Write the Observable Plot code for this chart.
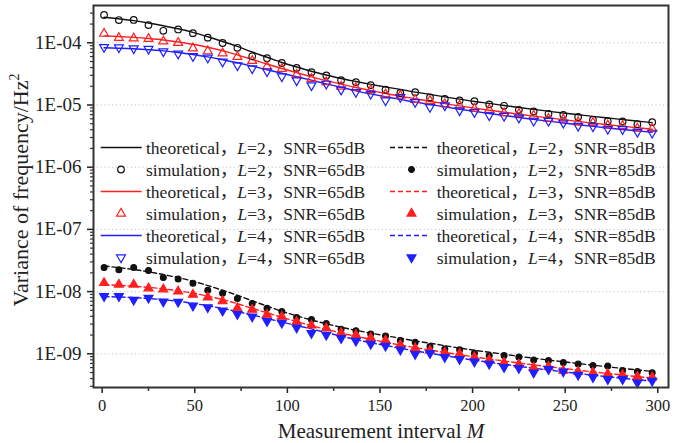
<!DOCTYPE html>
<html><head><meta charset="utf-8">
<script src="https://cdn.jsdelivr.net/npm/d3@7"></script>
<script src="https://cdn.jsdelivr.net/npm/@observablehq/plot@0.6"></script>
<style>
html,body{margin:0;padding:0;background:#fff;}
#chart{width:694px;height:443px;}
</style>
</head><body><div id="chart"></div>
<script>
// ---------- data ----------
const M = [1,9,17,25,33,41,49,57,65,73,81,89,97,105,113,121,129,137,145,153,161,169,177,185,193,201,209,217,225,233,241,249,257,265,273,281,289,297];

const theoL2_65 = [2.58e-4,2.43e-4,2.27e-4,2.08e-4,1.88e-4,1.68e-4,1.47e-4,1.25e-4,1.05e-4,8.73e-5,7.11e-5,5.85e-5,4.82e-5,4.08e-5,3.49e-5,3.04e-5,2.67e-5,2.39e-5,2.15e-5,1.95e-5,1.78e-5,1.61e-5,1.48e-5,1.35e-5,1.24e-5,1.14e-5,1.06e-5,9.82e-6,9.12e-6,8.49e-6,7.94e-6,7.43e-6,6.98e-6,6.56e-6,6.18e-6,5.82e-6,5.51e-6,5.21e-6];
const theoL3_65 = [1.29e-4,1.26e-4,1.22e-4,1.17e-4,1.11e-4,1.03e-4,9.46e-5,8.47e-5,7.44e-5,6.39e-5,5.39e-5,4.56e-5,3.86e-5,3.31e-5,2.83e-5,2.46e-5,2.16e-5,1.91e-5,1.71e-5,1.53e-5,1.38e-5,1.26e-5,1.15e-5,1.05e-5,9.68e-6,8.91e-6,8.24e-6,7.66e-6,7.11e-6,6.63e-6,6.20e-6,5.81e-6,5.45e-6,5.12e-6,4.82e-6,4.55e-6,4.30e-6,4.07e-6];
const theoL4_65 = [8.31e-5,8.19e-5,8.01e-5,7.75e-5,7.41e-5,6.98e-5,6.48e-5,5.93e-5,5.35e-5,4.77e-5,4.21e-5,3.69e-5,3.24e-5,2.85e-5,2.51e-5,2.19e-5,1.93e-5,1.69e-5,1.51e-5,1.36e-5,1.23e-5,1.11e-5,1.02e-5,9.32e-6,8.56e-6,7.89e-6,7.30e-6,6.78e-6,6.29e-6,5.87e-6,5.49e-6,5.14e-6,4.82e-6,4.53e-6,4.27e-6,4.04e-6,3.84e-6,3.64e-6];

const theoL2_85 = [2.58e-8,2.43e-8,2.27e-8,2.08e-8,1.88e-8,1.68e-8,1.47e-8,1.25e-8,1.05e-8,8.73e-9,7.11e-9,5.85e-9,4.82e-9,4.08e-9,3.49e-9,3.04e-9,2.67e-9,2.39e-9,2.15e-9,1.95e-9,1.78e-9,1.61e-9,1.48e-9,1.35e-9,1.24e-9,1.14e-9,1.06e-9,9.82e-10,9.12e-10,8.49e-10,7.94e-10,7.43e-10,6.98e-10,6.56e-10,6.18e-10,5.82e-10,5.51e-10,5.21e-10];
const theoL3_85 = [1.29e-8,1.26e-8,1.22e-8,1.17e-8,1.11e-8,1.03e-8,9.46e-9,8.47e-9,7.44e-9,6.39e-9,5.39e-9,4.56e-9,3.86e-9,3.31e-9,2.83e-9,2.46e-9,2.16e-9,1.91e-9,1.71e-9,1.53e-9,1.38e-9,1.26e-9,1.15e-9,1.05e-9,9.68e-10,8.91e-10,8.24e-10,7.66e-10,7.11e-10,6.63e-10,6.20e-10,5.81e-10,5.45e-10,5.12e-10,4.82e-10,4.55e-10,4.30e-10,4.07e-10];
const theoL4_85 = [8.31e-9,8.19e-9,8.01e-9,7.75e-9,7.41e-9,6.98e-9,6.48e-9,5.93e-9,5.35e-9,4.77e-9,4.21e-9,3.69e-9,3.24e-9,2.85e-9,2.51e-9,2.19e-9,1.93e-9,1.69e-9,1.51e-9,1.36e-9,1.23e-9,1.11e-9,1.02e-9,9.32e-10,8.56e-10,7.89e-10,7.30e-10,6.78e-10,6.29e-10,5.87e-10,5.49e-10,5.14e-10,4.82e-10,4.53e-10,4.27e-10,4.04e-10,3.84e-10,3.64e-10];

const simL2_65 = [2.80e-4,2.32e-4,2.33e-4,1.93e-4,1.56e-4,1.64e-4,1.43e-4,1.21e-4,9.93e-5,8.31e-5,6.07e-5,5.65e-5,4.73e-5,3.94e-5,3.37e-5,2.98e-5,2.51e-5,2.33e-5,2.09e-5,1.76e-5,1.56e-5,1.61e-5,1.32e-5,1.25e-5,1.18e-5,1.15e-5,1.02e-5,9.71e-6,8.37e-6,7.86e-6,7.22e-6,6.96e-6,6.41e-6,5.78e-6,5.49e-6,5.43e-6,4.91e-6,5.29e-6];
const simL3_65 = [1.40e-4,1.20e-4,1.18e-4,1.16e-4,1.06e-4,1.00e-4,8.16e-5,7.33e-5,6.80e-5,5.96e-5,5.14e-5,4.13e-5,3.83e-5,3.09e-5,2.64e-5,2.33e-5,1.98e-5,1.88e-5,1.74e-5,1.49e-5,1.42e-5,1.21e-5,1.17e-5,1.03e-5,9.82e-6,8.69e-6,8.40e-6,7.44e-6,7.22e-6,6.73e-6,6.02e-6,5.89e-6,5.33e-6,5.19e-6,4.72e-6,4.61e-6,4.20e-6,4.13e-6];
const simL4_65 = [8.50e-5,8.40e-5,8.10e-5,7.95e-5,7.25e-5,6.66e-5,6.07e-5,5.74e-5,4.95e-5,4.32e-5,3.86e-5,3.48e-5,2.87e-5,2.48e-5,2.06e-5,2.19e-5,1.76e-5,1.61e-5,1.51e-5,1.18e-5,1.34e-5,1.11e-5,9.22e-6,9.82e-6,8.16e-6,7.66e-6,6.78e-6,6.65e-6,6.23e-6,5.57e-6,5.53e-6,5.17e-6,4.60e-6,4.51e-6,4.11e-6,4.07e-6,3.68e-6,3.57e-6];

const simL2_85 = [2.43e-8,2.25e-8,2.43e-8,2.19e-8,1.69e-8,1.59e-8,1.36e-8,1.05e-8,9.43e-9,7.72e-9,6.41e-9,5.41e-9,4.77e-9,3.85e-9,3.55e-9,3.06e-9,2.49e-9,2.35e-9,2.09e-9,1.94e-9,1.63e-9,1.53e-9,1.31e-9,1.19e-9,1.16e-9,1.02e-9,9.42e-10,9.42e-10,8.92e-10,7.98e-10,7.78e-10,7.22e-10,6.88e-10,6.46e-10,6.39e-10,5.37e-10,5.17e-10,4.98e-10];
const simL3_85 = [1.38e-8,1.30e-8,1.30e-8,1.13e-8,1.09e-8,1.01e-8,8.95e-9,8.07e-9,7.01e-9,5.41e-9,5.14e-9,4.27e-9,3.96e-9,3.29e-9,2.86e-9,2.58e-9,2.18e-9,2.01e-9,1.80e-9,1.64e-9,1.39e-9,1.23e-9,1.13e-9,1.05e-9,9.96e-10,8.82e-10,7.98e-10,7.22e-10,6.80e-10,6.00e-10,6.23e-10,5.37e-10,5.17e-10,4.98e-10,4.75e-10,4.58e-10,4.30e-10,4.20e-10];
const simL4_85 = [8.43e-9,8.43e-9,7.36e-9,7.92e-9,6.91e-9,6.83e-9,5.93e-9,5.57e-9,4.93e-9,4.35e-9,3.96e-9,3.34e-9,3.14e-9,2.63e-9,2.15e-9,2.01e-9,1.78e-9,1.61e-9,1.44e-9,1.34e-9,1.16e-9,9.89e-10,1.02e-9,8.82e-10,8.19e-10,7.49e-10,6.88e-10,6.09e-10,5.87e-10,4.98e-10,5.65e-10,5.17e-10,4.58e-10,4.20e-10,3.90e-10,3.90e-10,3.44e-10,3.67e-10];

const xTicks = [0,50,100,150,200,250,300];
const xMinorTicks = [25,75,125,175,225,275];
const yTicks = [1e-4,1e-5,1e-6,1e-7,1e-8,1e-9];
const yTickLabels = ["1E-04","1E-05","1E-06","1E-07","1E-08","1E-09"];

const legendKinds = ["theoretical","simulation"];
const legendL = [2,3,4];
const legendSNR = ["65dB","85dB"];
const xLabelText = "Measurement interval ";
const xLabelItalic = "M";
const yLabelText = "Variance of frequency/Hz";

// ---------- styles ----------
const colors = {2:"#111111", 3:"#ff1f1f", 4:"#1f1fff"};
const sqrt3 = Math.sqrt(3);
const triangleDown = {
  draw(context, size) {
    const y = -Math.sqrt(size / (sqrt3 * 3));
    context.moveTo(0, -y * 2);
    context.lineTo(-sqrt3 * y, y);
    context.lineTo(sqrt3 * y, y);
    context.closePath();
  }
};
const symbols = {2: d3.symbolCircle, 3: d3.symbolTriangle, 4: triangleDown};
const radius = {2: 3.3, 3: 3.3, 4: 3.3};
const radiusFilled = {2: 2.9, 3: 3.3, 4: 3.3};

const rows = (vals) => M.map((m, i) => ({M: m, v: vals[i]}));

const theo = {65: {2: theoL2_65, 3: theoL3_65, 4: theoL4_65}, 85: {2: theoL2_85, 3: theoL3_85, 4: theoL4_85}};
const sim = {65: {2: simL2_65, 3: simL3_65, 4: simL4_65}, 85: {2: simL2_85, 3: simL3_85, 4: simL4_85}};

const xDomain = [-4.7, 305.8];
const yDomain = [2.872e-10, 3.977e-4];
const yMinorTicks = d3.scaleLog().domain(yDomain).ticks()
  .filter(v => !yTicks.some(t => Math.abs(t - v) / t < 1e-6));
const labelMap = new Map(yTicks.map((t, i) => [t, yTickLabels[i]]));

const serif = "'Liberation Serif', 'Times New Roman', 'Noto Sans CJK SC', serif";

const lineMarks = [];
const dotMarks = [];
for (const snr of [65, 85]) {
  for (const L of legendL) {
    lineMarks.push(Plot.line(rows(theo[snr][L]), {
      x: "M", y: "v", stroke: colors[L], strokeWidth: 1.4,
      strokeDasharray: snr === 85 ? "5,3" : null, curve: "monotone-x"
    }));
    dotMarks.push(Plot.dot(rows(sim[snr][L]), {
      x: "M", y: "v", symbol: symbols[L],
      r: snr === 65 ? radius[L] : radiusFilled[L],
      stroke: colors[L], strokeWidth: 1.2,
      fill: snr === 65 ? "none" : colors[L]
    }));
  }
}

const mL = 93, mR = 26, mT = 5, mB = 56;
const plot = Plot.plot({
  width: 694, height: 443,
  marginLeft: mL, marginRight: mR, marginTop: mT, marginBottom: mB,
  style: {fontFamily: serif, background: "white", color: "#222"},
  x: {domain: xDomain, label: null},
  y: {type: "log", domain: yDomain, label: null},
  marks: [
    Plot.ruleY(yTicks, {stroke: "#c2c2c2", strokeWidth: 1, strokeDasharray: "1.2,2.6"}),
    Plot.axisX({ticks: xMinorTicks, tickSize: 4, tickFormat: () => "", color: "#333", strokeWidth: 1.5, label: null}),
    Plot.axisX({ticks: xTicks, tickSize: 6, tickPadding: 6, fontSize: 16.5, color: "#222", strokeWidth: 1.5, label: null}),
    Plot.axisY({ticks: yMinorTicks, tickSize: 3, tickFormat: () => "", color: "#333", strokeWidth: 1.2, label: null}),
    Plot.axisY({ticks: yTicks, tickSize: 6, tickPadding: 6, fontSize: 19, color: "#222", strokeWidth: 1.5,
      tickFormat: d => labelMap.get(d), label: null}),
    ...lineMarks,
    ...dotMarks,
    Plot.frame({stroke: "#333", strokeWidth: 2})
  ]
});

document.getElementById("chart").appendChild(plot);

// ---------- axis labels & legend ----------
const svg = d3.select(plot);
const xl = svg.append("text")
  .attr("x", 381).attr("y", 438).attr("text-anchor", "middle")
  .attr("font-family", serif).attr("font-size", 21).attr("fill", "#222");
xl.append("tspan").text(xLabelText);
xl.append("tspan").attr("font-style", "italic").text(xLabelItalic);

const yl = svg.append("text")
  .attr("transform", "translate(28,190) rotate(-90)").attr("text-anchor", "middle")
  .attr("font-family", serif).attr("font-size", 22).attr("fill", "#222");
yl.append("tspan").text(yLabelText);
yl.append("tspan").attr("font-size", 14).attr("dy", -9).text("2");

const cols = [
  {x0: 100.7, x1: 141.7, mx: 121, tx: 146},
  {x0: 390, x1: 428, mx: 411.5, tx: 436.7}
];
const g = svg.append("g").attr("font-family", serif).attr("font-size", 17.5)
  .attr("fill", "#222").attr("text-anchor", "start");
legendSNR.forEach((snr, c) => {
  const col = cols[c];
  legendL.forEach((L, li) => {
    legendKinds.forEach((kind, ki) => {
      const r = li * 2 + ki;
      const cy = 147.5 + r * 22;
      if (kind === "theoretical") {
        g.append("line").attr("x1", col.x0).attr("x2", col.x1).attr("y1", cy).attr("y2", cy)
          .attr("stroke", colors[L]).attr("stroke-width", 1.4)
          .attr("stroke-dasharray", c === 1 ? "5,3" : null);
      } else {
        const rr = c === 0 ? radius[L] : radiusFilled[L];
        g.append("path")
          .attr("d", d3.symbol(symbols[L], Math.PI * rr * rr)())
          .attr("transform", `translate(${col.mx},${cy})`)
          .attr("stroke", colors[L]).attr("stroke-width", 1.2)
          .attr("fill", c === 0 ? "none" : colors[L]);
      }
      const t = g.append("text").attr("x", col.tx).attr("y", cy + 6).attr("text-anchor", "start");
      t.append("tspan").text(kind + "，");
      t.append("tspan").attr("font-style", "italic").text("L");
      t.append("tspan").text("=" + L + "，SNR=" + snr);
    });
  });
});
</script>
</body></html>
